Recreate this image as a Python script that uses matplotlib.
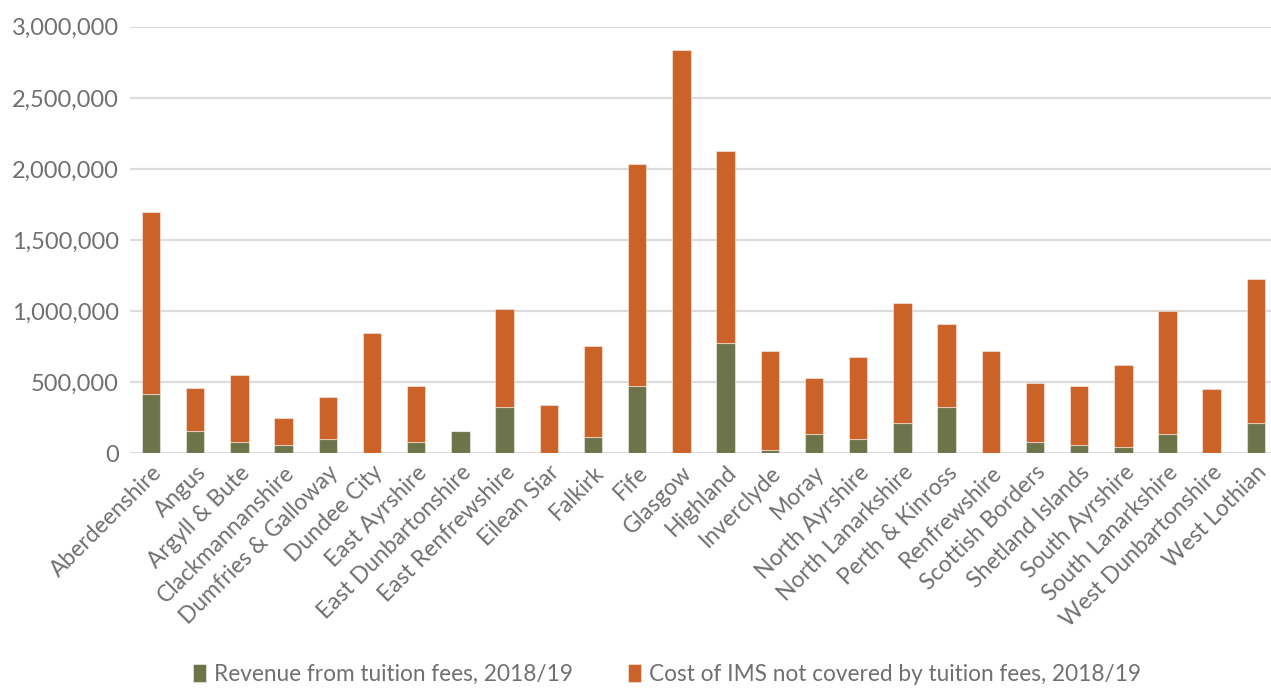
import matplotlib.pyplot as plt
import numpy as np
from matplotlib.ticker import FuncFormatter

GREEN = "#6D744A"
ORANGE = "#CB6228"
GRID = "#DCDCDC"
TEXT = "#707070"

councils = [
    "Aberdeenshire", "Angus", "Argyll & Bute", "Clackmannanshire", "Dumfries & Galloway",
    "Dundee City", "East Ayrshire", "East Dunbartonshire", "East Renfrewshire", "Eilean Siar",
    "Falkirk", "Fife", "Glasgow", "Highland", "Inverclyde", "Moray", "North Ayrshire",
    "North Lanarkshire", "Perth & Kinross", "Renfrewshire", "Scottish Borders",
    "Shetland Islands", "South Ayrshire", "South Lanarkshire", "West Dunbartonshire",
    "West Lothian",
]
fee_revenue = [
    417000, 155000, 80000, 61000, 98000, 3000, 80000, 155000, 323000, 0,
    117000, 473000, 0, 774000, 23000, 136000, 98000, 211000, 323000, 2000,
    80000, 61000, 42000, 136000, 0, 211000,
]
uncovered_cost = [
    1278000, 302000, 469000, 187000, 300000, 845000, 393000, 2000, 694000, 342000,
    638000, 1559000, 2836000, 1350000, 694000, 394000, 581000, 844000, 584000, 715000,
    412000, 412000, 581000, 863000, 454000, 1013000,
]
y_ticks = [0, 500000, 1000000, 1500000, 2000000, 2500000, 3000000]

plt.rcParams.update({"font.family": ["Lato", "DejaVu Sans"], "text.color": TEXT})

fig = plt.figure(figsize=(12.71, 6.88), dpi=100, facecolor="white")
ax = fig.add_axes([0.1023, 0.341, 0.8977, 0.62])

x = np.arange(len(councils))
width = 0.42
edge = dict(edgecolor=(1, 1, 1, 0.45), linewidth=0.8)
ax.bar(x, fee_revenue, width, color=GREEN, label="Revenue from tuition fees, 2018/19", zorder=3, **edge)
ax.bar(x, uncovered_cost, width, bottom=fee_revenue, color=ORANGE,
       label="Cost of IMS not covered by tuition fees, 2018/19", zorder=3, **edge)

ax.set_ylim(0, 3000000)
ax.set_xlim(-0.475, 25.34)
ax.set_yticks(y_ticks)
ax.yaxis.set_major_formatter(FuncFormatter(lambda v, _: f"{v:,.0f}"))
ax.yaxis.grid(True, color=GRID, linewidth=1.6, zorder=0)
ax.set_axisbelow(True)
for spine in ax.spines.values():
    spine.set_visible(False)
ax.tick_params(axis="both", length=0, colors=TEXT, labelsize=17)
ax.tick_params(axis="y", pad=8)
ax.set_xticks(x)
ax.set_xticklabels(councils, rotation=45, ha="right", rotation_mode="anchor", fontsize=16.5)
ax.tick_params(axis="x", pad=6)

handles, labels = ax.get_legend_handles_labels()
fig.legend(
    handles, labels, loc="center", bbox_to_anchor=(667 / 1271, 0.02), ncol=2, frameon=False,
    fontsize=16.3, handlelength=0.6, handleheight=0.9, handletextpad=0.35, columnspacing=2.4,
    labelcolor=TEXT, borderpad=0.1,
)

fig.savefig("out.png", dpi=100, facecolor="white")
